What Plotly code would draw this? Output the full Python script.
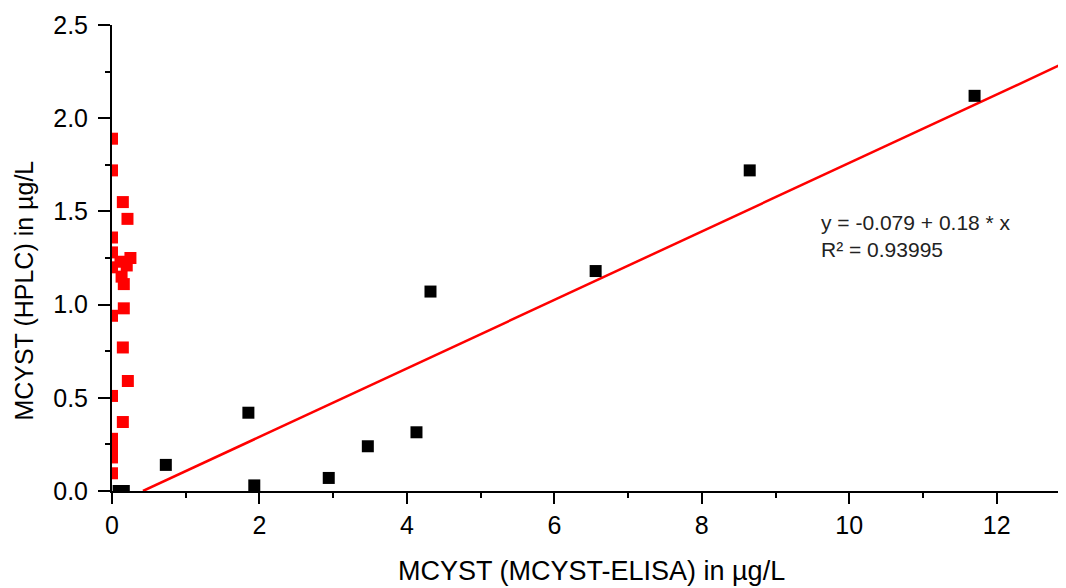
import plotly.graph_objects as go

# MCYST by ELISA (x) and by HPLC (y), µg/L
elisa_black = [0.09, 0.16, 0.73, 1.85, 1.93, 2.94, 3.47, 4.13, 4.32, 6.56, 8.65, 11.70]
hplc_black = [0.0, 0.0, 0.14, 0.42, 0.03, 0.07, 0.24, 0.315, 1.07, 1.18, 1.72, 2.12]

elisa_red = [0, 0, 0.147, 0.21, 0, 0, 0.25, 0.115, 0.20, 0, 0.13, 0.16, 0.16, 0,
             0.147, 0.215, 0, 0.147, 0, 0, 0, 0]
hplc_red = [1.89, 1.72, 1.55, 1.46, 1.36, 1.28, 1.25, 1.23, 1.21, 1.20, 1.15, 1.11, 0.98, 0.94,
            0.77, 0.59, 0.51, 0.37, 0.28, 0.23, 0.18, 0.095]

# linear fit line endpoints
fit_x = [0.42, 12.94]
fit_y = [0.0, 2.30]

x_ticks = [0, 2, 4, 6, 8, 10, 12]
y_ticks = [0.0, 0.5, 1.0, 1.5, 2.0, 2.5]
y_tick_labels = ["0.0", "0.5", "1.0", "1.5", "2.0", "2.5"]

FONT = "Liberation Sans, Arial, sans-serif"

fig = go.Figure()
fig.add_trace(go.Scatter(x=elisa_red, y=hplc_red, mode="markers",
                         marker=dict(symbol="square", size=12, color="#FF0000"),
                         showlegend=False))
fig.add_trace(go.Scatter(x=fit_x, y=fit_y, mode="lines",
                         line=dict(color="#FF0000", width=2.5), showlegend=False))
fig.add_trace(go.Scatter(x=elisa_black, y=hplc_black, mode="markers",
                         marker=dict(symbol="square", size=12, color="#000000"),
                         showlegend=False))

# the page body adds an 8px margin, so the figure is sized to fit the window
fig.update_layout(
    width=1058, height=580,
    margin=dict(l=104, r=0, t=17, b=97, autoexpand=False),
    paper_bgcolor="white", plot_bgcolor="white",
    font=dict(family=FONT, color="black"),
    xaxis=dict(range=[0, 12.94], tickmode="array", tickvals=x_ticks, automargin=False,
               showgrid=False, zeroline=False, showline=True, linecolor="black", linewidth=2,
               ticks="outside", ticklen=11, tickwidth=2, tickcolor="black",
               minor=dict(dtick=1, ticks="outside", ticklen=5, tickwidth=2, tickcolor="black", showgrid=False),
               tickfont=dict(size=25, family=FONT, color="black")),
    yaxis=dict(range=[0, 2.5], tickmode="array", tickvals=y_ticks, ticktext=y_tick_labels,
               automargin=False, ticklabelstandoff=5,
               showgrid=False, zeroline=False, showline=True, linecolor="black", linewidth=2,
               ticks="outside", ticklen=12, tickwidth=2, tickcolor="black",
               minor=dict(dtick=0.25, ticks="outside", ticklen=5, tickwidth=2, tickcolor="black", showgrid=False),
               tickfont=dict(size=25, family=FONT, color="black")),
    annotations=[
        dict(text="MCYST (MCYST-ELISA) in µg/L", xref="paper", yref="paper",
             x=0.503, y=-0.172, xanchor="center", yanchor="middle", showarrow=False,
             font=dict(size=27, family=FONT, color="black")),
        dict(text="MCYST (HPLC) in µg/L", xref="paper", yref="paper",
             x=-0.0917, y=0.429, xanchor="center", yanchor="middle", textangle=-90,
             showarrow=False, font=dict(size=25, family=FONT, color="black")),
        dict(text="y = -0.079 + 0.18 * x<br>R² = 0.93995", xref="paper", yref="paper",
             x=0.7416, y=0.548, xanchor="left", yanchor="middle", align="left",
             showarrow=False, font=dict(size=21, family=FONT, color="#222222")),
    ],
)

fig.write_html("out.html")
